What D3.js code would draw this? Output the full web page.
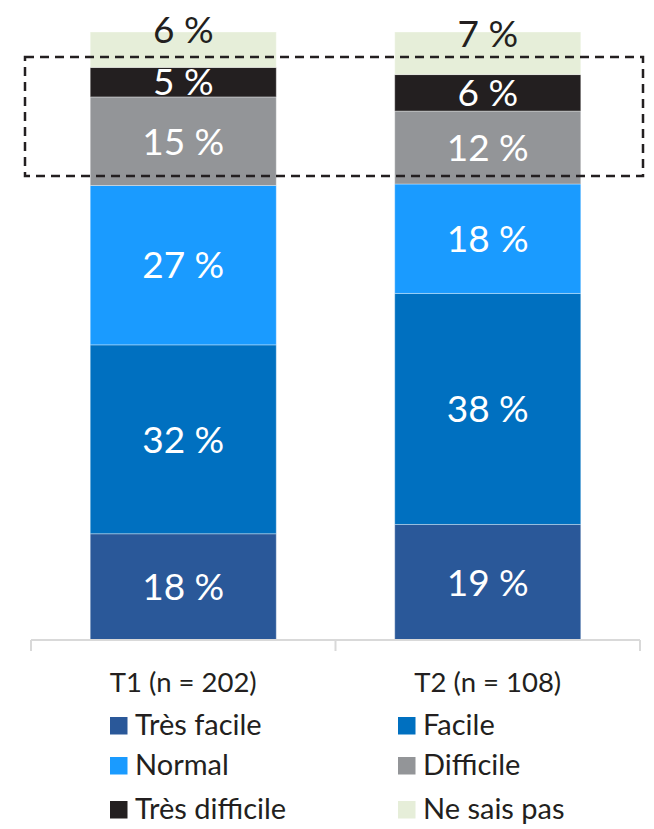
<!DOCTYPE html>
<html>
<head>
<meta charset="utf-8">
<script src="https://cdn.jsdelivr.net/npm/d3@7"></script>
<style>
  html, body { margin: 0; padding: 0; background: #ffffff; }
  svg { display: block; }
  text { font-family: Lato, "Open Sans", "Liberation Sans", sans-serif; }
</style>
</head>
<body>
<svg id="chart" width="654" height="829"></svg>
<script>
// ---- Data ----
const categories = ["T1 (n = 202)", "T2 (n = 108)"];
const seriesNames = ["Très facile", "Facile", "Normal", "Difficile", "Très difficile", "Ne sais pas"];
const tresFacile    = [18, 19];
const facile        = [32, 38];
const normal        = [27, 18];
const difficile     = [15, 12];
const tresDifficile = [5, 6];
const neSaisPas     = [6, 7];
const seriesColors = ["#2A5899", "#0070C0", "#1A9BFF", "#939598", "#231F20", "#E6EED9"];
const labelColors  = ["#ffffff", "#ffffff", "#ffffff", "#ffffff", "#ffffff", "#231F20"];

const seriesValues = [tresFacile, facile, normal, difficile, tresDifficile, neSaisPas];
const rows = categories.map((c, i) => {
  const r = { cat: c };
  seriesNames.forEach((s, j) => { r[s] = seriesValues[j][i]; });
  return r;
});

const svg = d3.select("#chart");

const x = d3.scaleBand().domain(categories).range([31, 640]).paddingInner(0.389).paddingOuter(0.1945);
const y = d3.scaleLinear().domain([0, 1]).range([640, 32]);

const stack = d3.stack().keys(seriesNames).offset(d3.stackOffsetExpand);
const stacked = stack(rows);

// bars
const groups = svg.append("g").selectAll("g")
  .data(stacked).join("g")
  .attr("fill", (d, i) => seriesColors[i]);

groups.selectAll("rect")
  .data(d => d.map(p => Object.assign(p, { key: d.key })))
  .join("rect")
  .attr("x", d => x(d.data.cat))
  .attr("width", x.bandwidth())
  .attr("y", d => y(d[1]))
  .attr("height", d => y(d[0]) - y(d[1]))
  .attr("stroke", "#ffffff")
  .attr("stroke-opacity", 0.35)
  .attr("stroke-width", 1);

// value labels
const valFs = 37;
stacked.forEach((s, i) => {
  const isTop = i === stacked.length - 1;
  svg.append("g").selectAll("text")
    .data(s).join("text")
    .attr("x", d => x(d.data.cat) + x.bandwidth() / 2)
    .attr("y", d => (y(d[0]) + y(d[1])) / 2 + 0.36 * valFs - (isTop ? 20 : 0))
    .attr("text-anchor", "middle")
    .attr("font-size", valFs)
    .attr("fill", labelColors[i])
    .text(d => d.data[s.key] + " %");
});

// axis
const axis = svg.append("g").attr("transform", "translate(0,640)")
  .call(d3.axisBottom(x).tickSize(0).tickFormat(""));
axis.select(".domain").remove();
axis.append("line").attr("x1", 31).attr("x2", 640).attr("y1", 0).attr("y2", 0)
  .attr("stroke", "#d9d9d9").attr("stroke-width", 2);
const bounds = [x.range()[0], (x(categories[0]) + x.bandwidth() + x(categories[1])) / 2, x.range()[1]];
axis.selectAll(".sep").data(bounds).join("line")
  .attr("x1", d => d).attr("x2", d => d).attr("y1", 0).attr("y2", 11)
  .attr("stroke", "#d9d9d9").attr("stroke-width", 2);

svg.append("g").selectAll("text").data(categories).join("text")
  .attr("x", d => x(d) + x.bandwidth() / 2)
  .attr("y", 692)
  .attr("text-anchor", "middle")
  .attr("font-size", 27.5)
  .attr("fill", "#231F20")
  .text(d => d);

// annotation dashed box
svg.append("rect")
  .attr("x", 25).attr("y", 57).attr("width", 618).attr("height", 119)
  .attr("fill", "none").attr("stroke", "#231F20").attr("stroke-width", 2.5)
  .attr("stroke-dasharray", "9,6");

// legend
const legCols = [110, 398];
const legRows = [717, 757, 801];
const leg = svg.append("g").selectAll("g").data(seriesNames).join("g")
  .attr("transform", (d, i) => `translate(${legCols[i % 2]},${legRows[Math.floor(i / 2)]})`);
leg.append("rect").attr("width", 17.5).attr("height", 17.5)
  .attr("fill", (d, i) => seriesColors[i]);
leg.append("text").attr("x", 25).attr("y", 17.5)
  .attr("font-size", 29).attr("fill", "#231F20")
  .text(d => d);
</script>
</body>
</html>
